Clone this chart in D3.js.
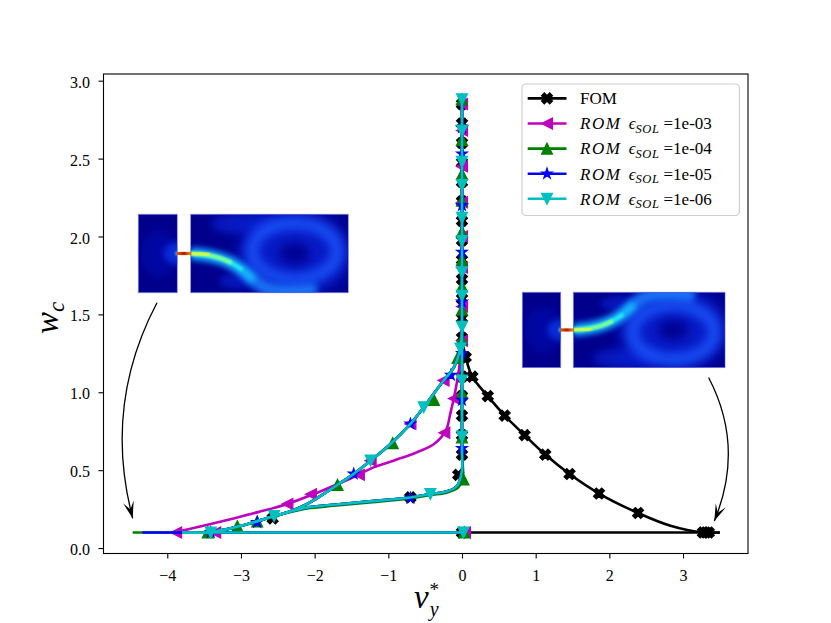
<!DOCTYPE html>
<html><head><meta charset="utf-8">
<script src="https://cdn.jsdelivr.net/npm/d3@7"></script>
<style>
body{margin:0;background:#fff;}
svg{display:block;}
text{fill:#000;}
</style>
</head><body>
<svg id="chart" width="831" height="623"></svg>
<script>
// ---------------- data (v_y*, w_c) ----------------
const X_TICKS = [-4, -3, -2, -1, 0, 1, 2, 3];
const Y_TICKS = [0, 0.5, 1, 1.5, 2, 2.5, 3];
const SERIES_NAMES = ["FOM", "1e-03", "1e-04", "1e-05", "1e-06"];

// shared branches
const romVertical = [[0, 2.88], [0, 0.62]];
const fomVertical = [[0, 2.85], [0, 0.62]];
const lowerLeftBranch = [[0, 0.5], [-0.065, 0.40], [-0.2, 0.364], [-0.43, 0.347], [-0.70, 0.325], [-1.29, 0.298], [-1.74, 0.278], [-2.1, 0.261], [-2.37, 0.229], [-2.55, 0.205], [-3.0, 0.143], [-3.25, 0.115], [-3.45, 0.1]];
const greenLowerLeftBranch = [[0.01, 0.45], [-0.05, 0.39], [-0.2, 0.357], [-0.43, 0.34], [-0.70, 0.318], [-1.29, 0.291], [-1.74, 0.271], [-2.1, 0.254], [-2.37, 0.226], [-2.55, 0.203], [-3.0, 0.141], [-3.25, 0.113], [-3.45, 0.1]];
const upperLeftBranch = [[0, 1.42], [-0.02, 1.29], [-0.11, 1.16], [-0.25, 1.076], [-0.52, 0.904], [-0.70, 0.797], [-0.97, 0.668], [-1.24, 0.561], [-1.47, 0.476], [-1.74, 0.39], [-2.1, 0.283], [-2.37, 0.229], [-2.55, 0.205], [-3.0, 0.143], [-3.25, 0.115], [-3.45, 0.1], [-3.8, 0.1]];
const magentaVertical = [[0, 2.88], [0, 1.45]];
const magentaInnerBranch = [[-0.01, 1.3], [-0.04, 1.15], [-0.09, 1.01], [-0.16, 0.86], [-0.22, 0.754], [-0.38, 0.668], [-0.61, 0.615], [-0.93, 0.561], [-1.2, 0.518], [-1.47, 0.456], [-1.74, 0.40], [-2.01, 0.347], [-2.37, 0.283], [-2.78, 0.229], [-3.1, 0.19], [-3.41, 0.154], [-3.7, 0.122], [-3.91, 0.1]];
const fomRightBranch = [[0, 1.35], [0.05, 1.225], [0.14, 1.1], [0.35, 0.975], [0.58, 0.85], [0.85, 0.725], [1.13, 0.6], [1.46, 0.475], [1.86, 0.35], [2.39, 0.225], [2.83, 0.143], [3.27, 0.1], [3.5, 0.1]];
const fomBase = [[0, 0.1], [3.5, 0.1]];
const magentaBase = [[-3.91, 0.1], [0.02, 0.1]];
const greenBase = [[-4.47, 0.1], [0.02, 0.1]];
const blueBase = [[-4.34, 0.1], [0.02, 0.1]];
const cyanBase = [[-3.8, 0.1], [0.04, 0.1]];

// marker positions
const fomMarks = [[0, 2.85], [0, 2.725], [0, 2.6], [0, 2.475], [0, 2.35], [0, 2.225], [0, 2.1], [0, 1.975], [0, 1.85], [0, 1.725], [0, 1.6], [0, 1.475], [0, 1.35], [0, 1.225], [0, 1.1], [0, 0.975], [0, 0.85], [0, 0.725], [0, 0.6], [-0.05, 0.47], [-0.70, 0.325], [-2.57, 0.19], [0, 0.1],
  [0.05, 1.225], [0.14, 1.1], [0.35, 0.975], [0.58, 0.85], [0.85, 0.725], [1.13, 0.6], [1.46, 0.475], [1.86, 0.35], [2.39, 0.225], [3.27, 0.1], [3.31, 0.1], [3.35, 0.1]];
const magentaMarks = [[0, 2.85], [0, 2.68], [0, 2.45], [0, 2.22], [0, 2.0], [0, 1.8], [0, 1.55], [0, 1.33], [-0.11, 0.96], [-0.24, 0.74], [-0.25, 1.076], [-0.70, 0.797], [-1.24, 0.561], [-1.40, 0.47], [-2.05, 0.345], [-2.37, 0.283], [-3.35, 0.1], [-3.88, 0.1], [0.04, 0.1]];
const greenMarks = [[0, 2.88], [0, 2.62], [0, 2.4], [0, 2.23], [0, 2.03], [0, 1.85], [0, 1.68], [0, 1.53], [0, 1.34], [-0.06, 1.22], [0, 0.995], [0, 0.71], [0.02, 0.44], [-0.38, 0.95], [-0.94, 0.673], [-1.69, 0.405], [-2.78, 0.17], [-3.05, 0.14], [-3.45, 0.1], [0.03, 0.1]];
const blueMarks = [[0, 2.7], [0, 2.53], [0, 2.2], [0, 1.9], [0, 1.58], [0, 1.25], [0, 0.95], [0, 0.64], [-0.15, 1.11], [-0.70, 0.797], [-1.47, 0.476], [-2.78, 0.165], [-3.41, 0.1], [-0.70, 0.322]];
const cyanMarks = [[0, 2.88], [0, 2.68], [0, 2.48], [0, 2.33], [0, 2.12], [0, 1.97], [0, 1.77], [0, 1.62], [0, 1.42], [-0.02, 1.28], [0, 1.076], [0, 0.716], [-0.52, 0.904], [-1.24, 0.561], [-2.55, 0.205], [-3.41, 0.1], [-0.43, 0.347], [0.02, 0.1]];

// insets [smallX0, smallX1, bigX0, bigX1, wTop, wBottom] and arrows [start, control, end]
const leftInsetBox = [-4.394, -3.865, -3.683, -1.543, 2.1425, 1.639];
const rightInsetBox = [0.8185, 1.340, 1.511, 3.570, 1.642, 1.158];
const leftArrow = [[-4.14, 1.575], [-4.873, 0.918], [-4.47, 0.191]];
const rightArrow = [[3.347, 1.095], [3.841, 0.649], [3.425, 0.174]];

// ---------------- chart ----------------
const FONT = "'Liberation Serif','Times New Roman',Times,'DejaVu Serif','Noto Serif',serif";
const svg = d3.select("#chart");
const M = {left: 103.5, right: 748, top: 74, bottom: 553.5};
const x = d3.scaleLinear().domain([-4.866, 3.882]).range([M.left, M.right]);
const y = d3.scaleLinear().domain([-0.035, 3.043]).range([M.bottom, M.top]);

const defs = svg.append("defs");
function blurFilter(id, sd) {
  defs.append("filter").attr("id", id).attr("x", "-50%").attr("y", "-50%").attr("width", "200%").attr("height", "200%")
    .append("feGaussianBlur").attr("stdDeviation", sd);
}
blurFilter("b1", 0.8); blurFilter("b2", 1.5); blurFilter("b3", 3); blurFilter("b5", 5); blurFilter("b7", 7);
const cg = defs.append("linearGradient").attr("id", "chan");
cg.append("stop").attr("offset", "0%").attr("stop-color", "#e07000");
cg.append("stop").attr("offset", "50%").attr("stop-color", "#b81400");
cg.append("stop").attr("offset", "100%").attr("stop-color", "#f0b000");

const series = [
  {color: "#000000", marker: "X", lines: [fomVertical.concat(lowerLeftBranch), fomRightBranch, fomBase], marks: fomMarks},
  {color: "#bf00bf", marker: "<", lines: [magentaVertical.concat(magentaInnerBranch), upperLeftBranch, magentaBase], marks: magentaMarks},
  {color: "#008000", marker: "^", lines: [romVertical.concat(greenLowerLeftBranch), upperLeftBranch, greenBase], marks: greenMarks},
  {color: "#0000ff", marker: "*", lines: [romVertical.concat(lowerLeftBranch), upperLeftBranch, blueBase], marks: blueMarks},
  {color: "#00bfbf", marker: "v", lines: [romVertical.concat(lowerLeftBranch), upperLeftBranch, cyanBase], marks: cyanMarks}
];

function markerPath(type, r) {
  let pts;
  if (type === "X") {
    pts = [[-1,-2],[0,-1],[1,-2],[2,-1],[1,0],[2,1],[1,2],[0,1],[-1,2],[-2,1],[-1,0],[-2,-1]].map(p => [p[0]*r/2, p[1]*r/2]);
  } else if (type === "^") pts = [[0,-r],[r,r],[-r,r]];
  else if (type === "v") pts = [[0,r],[r,-r],[-r,-r]];
  else if (type === "<") pts = [[-r,0],[r,-r],[r,r]];
  else {
    pts = [];
    for (let i = 0; i < 10; i++) {
      const a = (-90 + i*36) * Math.PI/180, rr = i % 2 ? r*0.381966 : r;
      pts.push([rr*Math.cos(a), rr*Math.sin(a)]);
    }
  }
  return "M" + pts.map(p => p[0].toFixed(2) + "," + p[1].toFixed(2)).join("L") + "Z";
}

// ---- insets ----
function drawInset(box, flip, id) {
  const sx0 = x(box[0]), sx1 = x(box[1]), bx0 = x(box[2]), bx1 = x(box[3]);
  const top = y(box[4]), bot = y(box[5]);
  const H = bot - top, Wb = bx1 - bx0, Ws = sx1 - sx0;
  const g = svg.append("g");
  // small chamber
  defs.append("clipPath").attr("id", id + "s").append("rect").attr("x", sx0).attr("y", top).attr("width", Ws).attr("height", H);
  const gs = g.append("g").attr("clip-path", `url(#${id}s)`);
  gs.append("rect").attr("x", sx0).attr("y", top).attr("width", Ws).attr("height", H).attr("fill", "#00008c");
  gs.append("ellipse").attr("cx", sx0 + Ws*0.55).attr("cy", top + H/2).attr("rx", Ws*0.5).attr("ry", H*0.3)
    .attr("fill", "#0010b8").attr("opacity", 0.5).attr("filter", "url(#b5)");
  gs.append("ellipse").attr("cx", sx1).attr("cy", top + H/2).attr("rx", Ws*0.35).attr("ry", H*0.14)
    .attr("fill", "#0a3cf0").attr("opacity", 0.7).attr("filter", "url(#b3)");
  gs.append("circle").attr("cx", sx1).attr("cy", top + H/2).attr("r", 2.2).attr("fill", "#40b0ff").attr("filter", "url(#b1)");
  // big chamber
  defs.append("clipPath").attr("id", id + "b").append("rect").attr("x", bx0).attr("y", top).attr("width", Wb).attr("height", H);
  const gb = g.append("g").attr("clip-path", `url(#${id}b)`).append("g").attr("transform", `translate(${bx0},${top})`);
  const P = (u, v) => [u*Wb, (flip ? 1 - v : v)*H];
  const ln = d3.line().curve(d3.curveBasis);
  const path = pts => ln(pts.map(p => P(p[0], p[1])));
  gb.append("rect").attr("width", Wb).attr("height", H).attr("fill", "#00008c");
  const ell = (u, v, ru, rv, fill, op, f) => { const c = P(u, v);
    gb.append("ellipse").attr("cx", c[0]).attr("cy", c[1]).attr("rx", ru*Wb).attr("ry", rv*H)
      .attr("fill", fill).attr("opacity", op).attr("filter", `url(#${f})`); };
  ell(0.66, 0.5, 0.36, 0.55, "#0a2ae6", 0.65, "b7");
  ell(0.35, 0.12, 0.22, 0.14, "#0a2ae6", 0.6, "b5");
  ell(0.3, 0.85, 0.12, 0.1, "#0a2ae6", 0.5, "b3");
  const rc = P(0.66, 0.47);
  gb.append("ellipse").attr("cx", rc[0]).attr("cy", rc[1]).attr("rx", 0.27*Wb).attr("ry", 0.36*H)
    .attr("fill", "none").attr("stroke", "#1e5cff").attr("stroke-width", 13).attr("opacity", 0.75).attr("filter", "url(#b5)");
  ell(0.66, 0.5, 0.1, 0.14, "#000090", 0.9, "b5");
  const jet = [[0, 0.5], [0.12, 0.52], [0.25, 0.6], [0.33, 0.71], [0.4, 0.84], [0.46, 0.95], [0.6, 1.0], [0.8, 0.96]];
  gb.append("path").attr("d", path(jet)).attr("fill", "none").attr("stroke", "#1e80ff").attr("stroke-width", 13)
    .attr("opacity", 0.85).attr("filter", "url(#b3)");
  gb.append("path").attr("d", path(jet.slice(0, 5))).attr("fill", "none").attr("stroke", "#14d8ff").attr("stroke-width", 7)
    .attr("opacity", 0.85).attr("filter", "url(#b3)");
  gb.append("path").attr("d", path(jet.slice(0, 4))).attr("fill", "none").attr("stroke", "#20e8f0").attr("stroke-width", 4)
    .attr("filter", "url(#b1)");
  gb.append("path").attr("d", path([[0, 0.5], [0.1, 0.51], [0.2, 0.56], [0.26, 0.62]])).attr("fill", "none").attr("stroke", "#80ff90")
    .attr("stroke-width", 4).attr("filter", "url(#b1)");
  gb.append("path").attr("d", path([[0, 0.5], [0.06, 0.503], [0.12, 0.515]])).attr("fill", "none").attr("stroke", "#e8ff30")
    .attr("stroke-width", 3).attr("filter", "url(#b1)");
  // channel
  g.append("rect").attr("x", sx1 - 1).attr("y", top + H/2 - 1.6).attr("width", bx0 - sx1 + 2).attr("height", 3.2)
    .attr("fill", "url(#chan)");
  // borders
  g.append("rect").attr("x", sx0).attr("y", top).attr("width", Ws).attr("height", H)
    .attr("fill", "none").attr("stroke", "#5a5ad8").attr("stroke-width", 0.8).attr("opacity", 0.7);
  g.append("rect").attr("x", bx0).attr("y", top).attr("width", Wb).attr("height", H)
    .attr("fill", "none").attr("stroke", "#5a5ad8").attr("stroke-width", 0.8).attr("opacity", 0.7);
}

// ---- series lines & markers ----
const lineGen = d3.line().x(d => x(d[0])).y(d => y(d[1])).curve(d3.curveCatmullRom.alpha(0.5));
const plotG = svg.append("g");
series.forEach(s => {
  const g = plotG.append("g");
  s.lines.forEach(l => g.append("path").attr("d", lineGen(l)).attr("fill", "none").attr("stroke", s.color)
    .attr("stroke-width", 2.6).attr("stroke-linejoin", "round").attr("stroke-linecap", "butt"));
  g.selectAll(".m").data(s.marks).join("path").attr("class", "m")
    .attr("transform", d => `translate(${x(d[0])},${y(d[1])})`)
    .attr("d", markerPath(s.marker, 5.4)).attr("fill", s.color).attr("stroke", s.color).attr("stroke-width", 1.3);
});

drawInset(leftInsetBox, false, "li");
drawInset(rightInsetBox, true, "ri");

// ---- arrows ----
function drawArrow(a) {
  const p = a.map(d => [x(d[0]), y(d[1])]);
  svg.append("path").attr("d", `M${p[0][0]},${p[0][1]}Q${p[1][0]},${p[1][1]} ${p[2][0]},${p[2][1]}`)
    .attr("fill", "none").attr("stroke", "#000").attr("stroke-width", 1.3);
  const dx = p[2][0] - p[1][0], dy = p[2][1] - p[1][1], L = Math.hypot(dx, dy);
  const ux = dx/L, uy = dy/L, nx = -uy, ny = ux;
  const len = 17, hw = 5.5, notch = 9;
  const tip = p[2], bx = tip[0] - ux*len, by = tip[1] - uy*len;
  const pts = [tip, [bx + nx*hw, by + ny*hw], [tip[0] - ux*notch, tip[1] - uy*notch], [bx - nx*hw, by - ny*hw]];
  svg.append("path").attr("d", "M" + pts.map(q => q.join(",")).join("L") + "Z").attr("fill", "#000");
}
drawArrow(leftArrow);
drawArrow(rightArrow);

// ---- axes ----
svg.append("rect").attr("x", M.left).attr("y", M.top).attr("width", M.right - M.left).attr("height", M.bottom - M.top)
  .attr("fill", "none").attr("stroke", "#000").attr("stroke-width", 1.1);
const xAxis = svg.append("g").attr("transform", `translate(0,${M.bottom})`)
  .call(d3.axisBottom(x).tickValues(X_TICKS).tickSize(5).tickFormat(d3.format("d")));
xAxis.select(".domain").remove();
xAxis.attr("font-family", null);
xAxis.selectAll("line").attr("stroke", "#000").attr("stroke-width", 1.1);
xAxis.selectAll("text").attr("y", 27.2).attr("dy", null).style("font-size", "16px").style("font-family", FONT);
const yAxis = svg.append("g").attr("transform", `translate(${M.left},0)`)
  .call(d3.axisLeft(y).tickValues(Y_TICKS).tickSize(5).tickFormat(d3.format(".1f")));
yAxis.select(".domain").remove();
yAxis.attr("font-family", null);
yAxis.selectAll("line").attr("stroke", "#000").attr("stroke-width", 1.1);
yAxis.selectAll("text").attr("x", -13.5).attr("dy", 6.6).style("font-size", "16px").style("font-family", FONT);

// axis labels
const xl = svg.append("text").attr("x", 414).attr("y", 608).style("font-size", "33px").style("font-family", FONT);
xl.append("tspan").attr("font-style", "italic").text("v");
xl.append("tspan").attr("font-style", "italic").style("font-size", "20px").attr("dx", 1).attr("dy", 8).text("y");
xl.append("tspan").style("font-size", "19px").attr("dx", -9).attr("dy", -20).text("*");
const yl = svg.append("text").attr("transform", "translate(58,318) rotate(-90)").attr("text-anchor", "middle")
  .style("font-size", "33px").style("font-family", FONT);
yl.append("tspan").attr("font-style", "italic").text("w");
yl.append("tspan").attr("font-style", "italic").style("font-size", "23px").attr("dy", 6).text("c");

// ---- legend ----
const lg = svg.append("g");
lg.append("rect").attr("x", 522).attr("y", 84).attr("width", 217.4).attr("height", 131.5).attr("rx", 4)
  .attr("fill", "#fff").attr("fill-opacity", 0.8).attr("stroke", "#cccccc").attr("stroke-width", 1.1);
series.forEach((s, i) => {
  const cy = 98.4 + i*25.1;
  lg.append("line").attr("x1", 527.7).attr("x2", 566.5).attr("y1", cy).attr("y2", cy)
    .attr("stroke", s.color).attr("stroke-width", 2.6);
  lg.append("path").attr("transform", `translate(547,${cy})`).attr("d", markerPath(s.marker, 5.4))
    .attr("fill", s.color).attr("stroke", s.color).attr("stroke-width", 1.3);
  const t = lg.append("text").attr("x", 580).attr("y", cy + 5.8).style("font-size", "17px").style("font-family", FONT);
  if (i === 0) { t.text(SERIES_NAMES[i]); return; }
  t.append("tspan").attr("font-style", "italic").attr("letter-spacing", 1.6).text("ROM");
  t.append("tspan").attr("font-style", "italic").attr("dx", 7).text("ϵ");
  t.append("tspan").attr("font-style", "italic").style("font-size", "12.5px").attr("dy", 3.5).attr("letter-spacing", 0.6).text("SOL");
  t.append("tspan").attr("dy", -3.5).attr("dx", 4).text("=" + SERIES_NAMES[i]);
});
</script>
</body></html>
